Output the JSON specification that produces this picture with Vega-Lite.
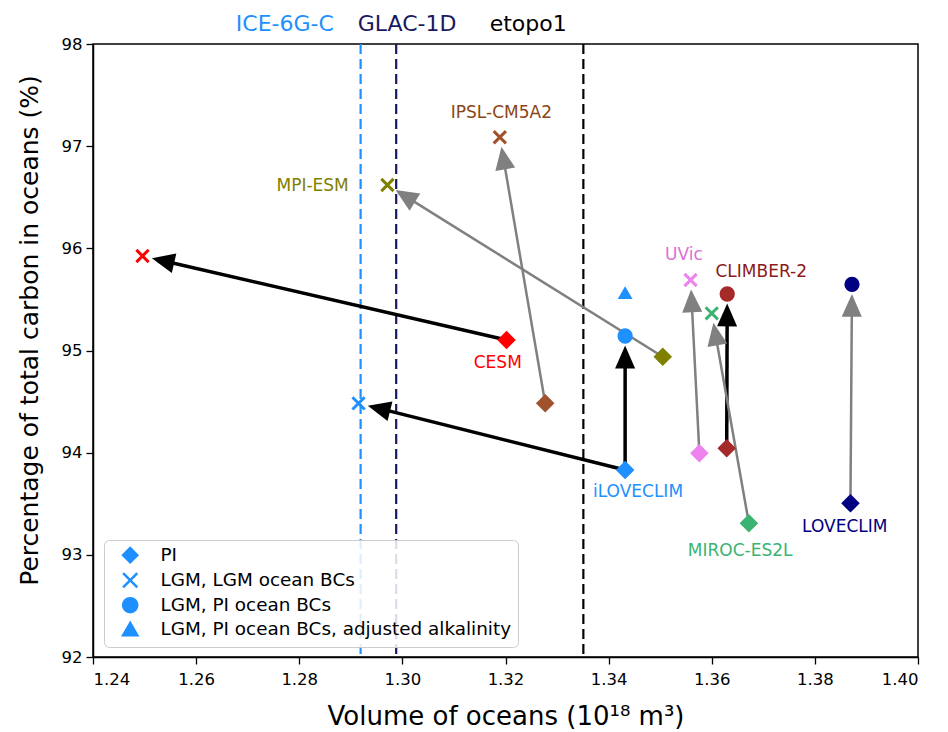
{
  "$schema": "https://vega.github.io/schema/vega-lite/v6.json",
  "width": 825,
  "height": 613,
  "autosize": {"type": "none"},
  "padding": {"left": 93, "top": 44, "right": 30, "bottom": 75},
  "background": "white",
  "config": {
    "font": "DejaVu Sans",
    "view": {"stroke": "black", "strokeWidth": 1.5},
    "axis": {
      "grid": false,
      "domainColor": "black",
      "domainWidth": 1.5,
      "tickColor": "black",
      "tickWidth": 1.3,
      "tickSize": 7,
      "labelColor": "black",
      "labelFont": "DejaVu Sans",
      "labelFontSize": 16.5,
      "titleFont": "DejaVu Sans",
      "titleFontWeight": "normal",
      "titleColor": "black"
    }
  },
  "datasets": {
    "points": [
      {"model": "CESM", "type": "PI", "x": 1.3202, "y": 95.103},
      {"model": "IPSL-CM5A2", "type": "PI", "x": 1.3277, "y": 94.483},
      {"model": "MPI-ESM", "type": "PI", "x": 1.3505, "y": 94.939},
      {"model": "iLOVECLIM", "type": "PI", "x": 1.3432, "y": 93.83},
      {"model": "UVic", "type": "PI", "x": 1.3576, "y": 93.994},
      {"model": "CLIMBER-2", "type": "PI", "x": 1.3629, "y": 94.043},
      {"model": "MIROC-ES2L", "type": "PI", "x": 1.3672, "y": 93.309},
      {"model": "LOVECLIM", "type": "PI", "x": 1.3869, "y": 93.504},
      {"model": "CESM", "type": "LGM, LGM ocean BCs", "x": 1.2496, "y": 95.925},
      {"model": "IPSL-CM5A2", "type": "LGM, LGM ocean BCs", "x": 1.3189, "y": 97.087},
      {"model": "MPI-ESM", "type": "LGM, LGM ocean BCs", "x": 1.2971, "y": 96.62},
      {"model": "iLOVECLIM", "type": "LGM, LGM ocean BCs", "x": 1.2915, "y": 94.483},
      {"model": "UVic", "type": "LGM, LGM ocean BCs", "x": 1.3559, "y": 95.69},
      {"model": "MIROC-ES2L", "type": "LGM, LGM ocean BCs", "x": 1.36, "y": 95.364},
      {"model": "iLOVECLIM", "type": "LGM, PI ocean BCs", "x": 1.3432, "y": 95.142},
      {"model": "CLIMBER-2", "type": "LGM, PI ocean BCs", "x": 1.363, "y": 95.553},
      {"model": "LOVECLIM", "type": "LGM, PI ocean BCs", "x": 1.3872, "y": 95.648},
      {"model": "iLOVECLIM", "type": "LGM, PI ocean BCs, adjusted alkalinity", "x": 1.3432, "y": 95.563}
    ],
    "arrows": [
      {"model": "CESM", "kind": "black", "x1": 1.3202, "y1": 95.103, "x2": 1.2496, "y2": 95.925},
      {"model": "iLOVECLIM", "kind": "black", "x1": 1.3432, "y1": 93.83, "x2": 1.2915, "y2": 94.483},
      {"model": "iLOVECLIM", "kind": "black", "x1": 1.3432, "y1": 93.83, "x2": 1.3432, "y2": 95.142},
      {"model": "CLIMBER-2", "kind": "black", "x1": 1.3629, "y1": 94.043, "x2": 1.363, "y2": 95.553},
      {"model": "IPSL-CM5A2", "kind": "gray", "x1": 1.3277, "y1": 94.483, "x2": 1.3189, "y2": 97.087},
      {"model": "MPI-ESM", "kind": "gray", "x1": 1.3505, "y1": 94.939, "x2": 1.2971, "y2": 96.62},
      {"model": "UVic", "kind": "gray", "x1": 1.3576, "y1": 93.994, "x2": 1.3559, "y2": 95.69},
      {"model": "MIROC-ES2L", "kind": "gray", "x1": 1.3672, "y1": 93.309, "x2": 1.36, "y2": 95.364},
      {"model": "LOVECLIM", "kind": "gray", "x1": 1.3869, "y1": 93.504, "x2": 1.3872, "y2": 95.648}
    ],
    "labels": [
      {"model": "IPSL-CM5A2", "lx": 1.3192, "ly": 97.322},
      {"model": "MPI-ESM", "lx": 1.2826, "ly": 96.61},
      {"model": "CESM", "lx": 1.3185, "ly": 94.881},
      {"model": "iLOVECLIM", "lx": 1.3457, "ly": 93.615},
      {"model": "UVic", "lx": 1.3546, "ly": 95.935},
      {"model": "CLIMBER-2", "lx": 1.3696, "ly": 95.768},
      {"model": "MIROC-ES2L", "lx": 1.3655, "ly": 93.038},
      {"model": "LOVECLIM", "lx": 1.3858, "ly": 93.272}
    ],
    "lines": [
      {"name": "ICE-6G-C", "x": 1.2919, "lx": 1.2772},
      {"name": "GLAC-1D", "x": 1.2988, "lx": 1.3009},
      {"name": "etopo1", "x": 1.3351, "lx": 1.3244}
    ]
  },
  "layer": [
    {
      "data": {"name": "lines"},
      "mark": {"type": "rule", "strokeDash": [10, 5], "strokeWidth": 2.2},
      "encoding": {
        "x": {
          "field": "x",
          "type": "quantitative",
          "scale": {"domain": [1.24, 1.40], "nice": false, "zero": false},
          "axis": {
            "values": [1.24, 1.26, 1.28, 1.30, 1.32, 1.34, 1.36, 1.38, 1.40],
            "format": ".2f",
            "title": "Volume of oceans (10¹⁸ m³)",
            "titleFontSize": 26,
            "titlePadding": 16,
            "labelPadding": 7
          }
        },
        "color": {
          "field": "name",
          "type": "nominal",
          "scale": {"domain": ["ICE-6G-C", "GLAC-1D", "etopo1"], "range": ["#1e90ff", "#191960", "#000000"]},
          "legend": null
        }
      }
    },
    {
      "data": {"name": "lines"},
      "mark": {"type": "text", "fontSize": 22, "align": "center", "baseline": "middle", "font": "DejaVu Sans"},
      "encoding": {
        "x": {"field": "lx", "type": "quantitative"},
        "y": {"datum": 98.2},
        "text": {"field": "name"},
        "color": {
          "field": "name",
          "type": "nominal",
          "scale": {"domain": ["ICE-6G-C", "GLAC-1D", "etopo1"], "range": ["#1e90ff", "#191960", "#000000"]},
          "legend": null
        }
      }
    },
    {
      "data": {"name": "arrows"},
      "transform": [
        {"calculate": "(datum.x2 - datum.x1) * 5156.25", "as": "dxp"},
        {"calculate": "(datum.y1 - datum.y2) * 102.1667", "as": "dyp"},
        {"calculate": "sqrt(datum.dxp * datum.dxp + datum.dyp * datum.dyp)", "as": "len"},
        {"calculate": "datum.x2 - 21 * datum.dxp / datum.len / 5156.25", "as": "hx"},
        {"calculate": "datum.y2 + 21 * datum.dyp / datum.len / 102.1667", "as": "hy"}
      ],
      "mark": {"type": "rule"},
      "encoding": {
        "x": {"field": "x1", "type": "quantitative"},
        "y": {"field": "y1", "type": "quantitative"},
        "x2": {"field": "hx"},
        "y2": {"field": "hy"},
        "color": {
          "field": "kind",
          "type": "nominal",
          "scale": {"domain": ["black", "gray"], "range": ["#000000", "#808080"]},
          "legend": null
        },
        "strokeWidth": {
          "condition": {"test": "datum.kind === 'black'", "value": 3.5},
          "value": 2.5
        }
      }
    },
    {
      "data": {"name": "arrows"},
      "transform": [
        {"calculate": "(datum.x2 - datum.x1) * 5156.25", "as": "dxp"},
        {"calculate": "(datum.y1 - datum.y2) * 102.1667", "as": "dyp"},
        {"calculate": "sqrt(datum.dxp * datum.dxp + datum.dyp * datum.dyp)", "as": "len"},
        {"calculate": "datum.x2 - 21 * datum.dxp / datum.len / 5156.25", "as": "hx"},
        {"calculate": "datum.y2 + 21 * datum.dyp / datum.len / 102.1667", "as": "hy"},
        {"calculate": "atan2(datum.dxp, -datum.dyp) * 180 / PI", "as": "ang"}
      ],
      "mark": {"type": "point", "filled": true, "opacity": 1, "shape": "M0,-1L-0.88,1L0.88,1Z", "size": 520},
      "encoding": {
        "x": {"field": "hx", "type": "quantitative"},
        "y": {"field": "hy", "type": "quantitative"},
        "angle": {"field": "ang", "type": "quantitative", "scale": null},
        "color": {
          "field": "kind",
          "type": "nominal",
          "scale": {"domain": ["black", "gray"], "range": ["#000000", "#808080"]},
          "legend": null
        }
      }
    },
    {
      "data": {"name": "points"},
      "mark": {"type": "point", "filled": true, "opacity": 0, "color": "#1e90ff", "stroke": "#1e90ff", "strokeWidth": 2.5, "size": 200},
      "encoding": {
        "x": {"field": "x", "type": "quantitative"},
        "y": {"field": "y", "type": "quantitative"},
        "shape": {
          "field": "type",
          "type": "nominal",
          "scale": {
            "domain": ["PI", "LGM, LGM ocean BCs", "LGM, PI ocean BCs", "LGM, PI ocean BCs, adjusted alkalinity"],
            "range": ["diamond", "M-1,-1L1,1M-1,1L1,-1", "circle", "triangle-up"]
          },
          "legend": {
            "title": null,
            "orient": "none",
            "legendX": 11,
            "legendY": 496,
            "labelFontSize": 18.4,
            "labelFont": "DejaVu Sans",
            "labelColor": "black",
            "labelLimit": 600,
            "fillColor": "rgba(255,255,255,0.85)",
            "strokeColor": "#cccccc",
            "cornerRadius": 5,
            "padding": 6,
            "rowPadding": 0,
            "labelOffset": 21,
            "symbolOffset": 11,
            "symbolSize": 200,
            "symbolOpacity": 1,
            "symbolStrokeWidth": 2.5
          }
        }
      }
    },
    {
      "data": {"name": "points"},
      "mark": {"type": "point", "filled": true, "opacity": 1},
      "encoding": {
        "x": {"field": "x", "type": "quantitative"},
        "y": {
          "field": "y",
          "type": "quantitative",
          "scale": {"domain": [92, 98], "nice": false, "zero": false},
          "axis": {
            "values": [92, 93, 94, 95, 96, 97, 98],
            "format": "d",
            "title": "Percentage of total carbon in oceans (%)",
            "titleFontSize": 25,
            "titlePadding": 19,
            "titleY": 286,
            "labelPadding": 4
          }
        },
        "fill": {
          "field": "model",
          "type": "nominal",
          "scale": {
            "domain": ["CESM", "IPSL-CM5A2", "MPI-ESM", "iLOVECLIM", "UVic", "CLIMBER-2", "MIROC-ES2L", "LOVECLIM"],
            "range": ["#ff0000", "#a0522d", "#808000", "#1e90ff", "#ee82ee", "#a52a2a", "#3cb371", "#000080"]
          },
          "legend": null
        },
        "stroke": {
          "field": "model",
          "type": "nominal",
          "scale": {
            "domain": ["CESM", "IPSL-CM5A2", "MPI-ESM", "iLOVECLIM", "UVic", "CLIMBER-2", "MIROC-ES2L", "LOVECLIM"],
            "range": ["#ff0000", "#a0522d", "#808000", "#1e90ff", "#ee82ee", "#a52a2a", "#3cb371", "#000080"]
          },
          "legend": null
        },
        "strokeWidth": {
          "condition": {"test": "datum.type === 'LGM, LGM ocean BCs'", "value": 3},
          "value": 1.5
        },
        "size": {
          "condition": [
            {"test": "datum.type === 'PI'", "value": 270},
            {"test": "datum.type === 'LGM, PI ocean BCs'", "value": 190}
          ],
          "value": 150
        },
        "shape": {
          "field": "type",
          "type": "nominal",
          "legend": null
        }
      }
    },
    {
      "data": {"name": "labels"},
      "mark": {"type": "text", "fontSize": 17, "align": "center", "baseline": "middle", "font": "DejaVu Sans"},
      "encoding": {
        "x": {"field": "lx", "type": "quantitative"},
        "y": {"field": "ly", "type": "quantitative"},
        "text": {"field": "model"},
        "color": {
          "field": "model",
          "type": "nominal",
          "scale": {
            "domain": ["CESM", "IPSL-CM5A2", "MPI-ESM", "iLOVECLIM", "UVic", "CLIMBER-2", "MIROC-ES2L", "LOVECLIM"],
            "range": ["#ff0000", "#8b4513", "#808000", "#1e90ff", "#da70d6", "#8b1a1a", "#3cb371", "#000080"]
          },
          "legend": null
        }
      }
    }
  ],
  "resolve": {"scale": {"color": "independent", "fill": "independent", "stroke": "independent"}}
}
